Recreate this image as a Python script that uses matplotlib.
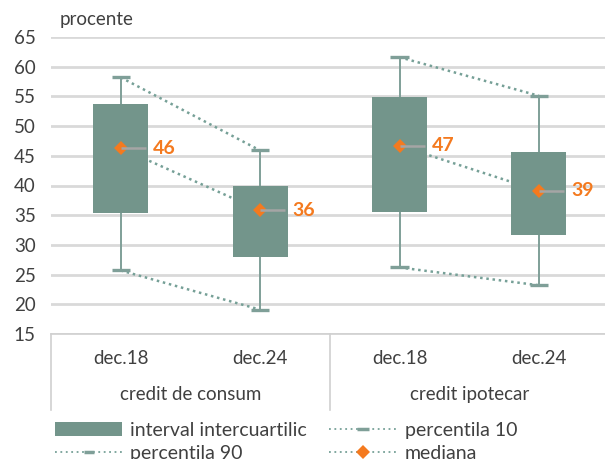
import numpy as np
import matplotlib.pyplot as plt
from matplotlib.patches import Patch
from matplotlib.lines import Line2D

plt.rcParams['font.family'] = ['Lato', 'DejaVu Sans']

# distribution of the rates, per loan type and moment
groups = ['credit de consum', 'credit ipotecar']
periods = ['dec.18', 'dec.24', 'dec.18', 'dec.24']
p10 = [25.7, 19.1, 26.2, 23.2]
q1 = [35.4, 28.0, 35.6, 31.7]
median = [46.3, 35.8, 46.7, 39.1]
q3 = [53.7, 39.9, 54.9, 45.7]
p90 = [58.2, 45.9, 61.6, 55.1]

box_col = '#73958b'
whisk_col = '#7f9f98'
dot_col = '#76a097'
orange = '#f47a1f'
txt_col = '#404040'
fs = 13.5

x = np.arange(len(periods))
p10 = np.array(p10); q1 = np.array(q1); median = np.array(median)
q3 = np.array(q3); p90 = np.array(p90)

fig = plt.figure(figsize=(6.05, 4.59), dpi=100)
ax = fig.add_axes([51/605, 1-334/459, 1-51/605, 297/459])

ax.set_ylim(15, 65)
ax.set_xlim(-0.5, 3.474)
ax.set_yticks(np.arange(15, 66, 5))
ax.yaxis.grid(True, color='#d9d9d9', linewidth=2)
ax.set_axisbelow(True)
for s in ['top', 'right', 'left']:
    ax.spines[s].set_visible(False)
ax.spines['bottom'].set_color('#d0d0d0')
ax.spines['bottom'].set_linewidth(1.2)
ax.tick_params(axis='y', length=0, pad=11, labelsize=fs, labelcolor=txt_col)
ax.set_xticks([])

dotted = dict(color=dot_col, linewidth=1.8, linestyle=(0, (1, 1.5)))
# dotted links between the two moments of each loan type
for g in range(2):
    i, j = 2*g, 2*g + 1
    for ser in (p10, p90, median):
        ax.plot([x[i], x[j]], [ser[i], ser[j]], zorder=2, **dotted)

ax.vlines(x, p10, p90, color=whisk_col, linewidth=1.4, zorder=3)
ax.hlines(p10, x - 0.065, x + 0.065, color=whisk_col, linewidth=2.4, zorder=3)
ax.hlines(p90, x - 0.065, x + 0.065, color=whisk_col, linewidth=2.4, zorder=3)
ax.bar(x, q3 - q1, bottom=q1, width=0.395, color=box_col, zorder=4)

ax.plot(x, median, linestyle='none', marker='D', markersize=7,
        color=orange, markeredgewidth=0, zorder=5)
ax.hlines(median, x, x + 0.18, color='#a5a5a5', linewidth=1.8, zorder=6)
for xi, m in zip(x, median):
    ax.text(xi + 0.23, m, f'{m:.0f}', color=orange, fontsize=fs + 0.5,
            fontweight='bold', va='center', ha='left', zorder=7)

# two-level category axis
tr = ax.get_xaxis_transform()
for xi, lab in zip(x, periods):
    ax.text(xi, -0.081, lab, transform=tr, ha='center', va='center',
            fontsize=fs, color=txt_col)
for g, lab in enumerate(groups):
    ax.text(2*g + 0.5, -0.205, lab, transform=tr, ha='center', va='center',
            fontsize=fs, color=txt_col)
for xs in (-0.5, 1.5):
    ax.plot([xs, xs], [0, -0.256], transform=tr, color='#d0d0d0',
            linewidth=1.2, clip_on=False)

fig.text(60/605, 1 - 20/459, 'procente', fontsize=fs, color=txt_col,
         va='center', ha='left')

leg_dots = dict(color=dot_col, linewidth=1.3, linestyle=(0, (1, 2)))
handles = [
    Patch(facecolor=box_col, edgecolor='none'),
    Line2D([], [], marker='_', markersize=7, markeredgewidth=2.5,
           markeredgecolor=whisk_col, **leg_dots),
    Line2D([], [], marker='_', markersize=8, markeredgewidth=2.5,
           markeredgecolor=whisk_col, **leg_dots),
    Line2D([], [], marker='D', markersize=7, markerfacecolor=orange,
           markeredgewidth=0, **leg_dots),
]
labels = ['interval intercuartilic', 'percentila 90', 'percentila 10', 'mediana']
fig.legend(handles, labels, ncol=2, loc='upper left',
           bbox_to_anchor=(55/605, 1 - 422/459), frameon=False,
           fontsize=14, labelcolor=txt_col, handlelength=3.45,
           handletextpad=0.42, columnspacing=1.15, labelspacing=0.3,
           borderpad=0, borderaxespad=0)

fig.savefig('out.png', dpi=100)
